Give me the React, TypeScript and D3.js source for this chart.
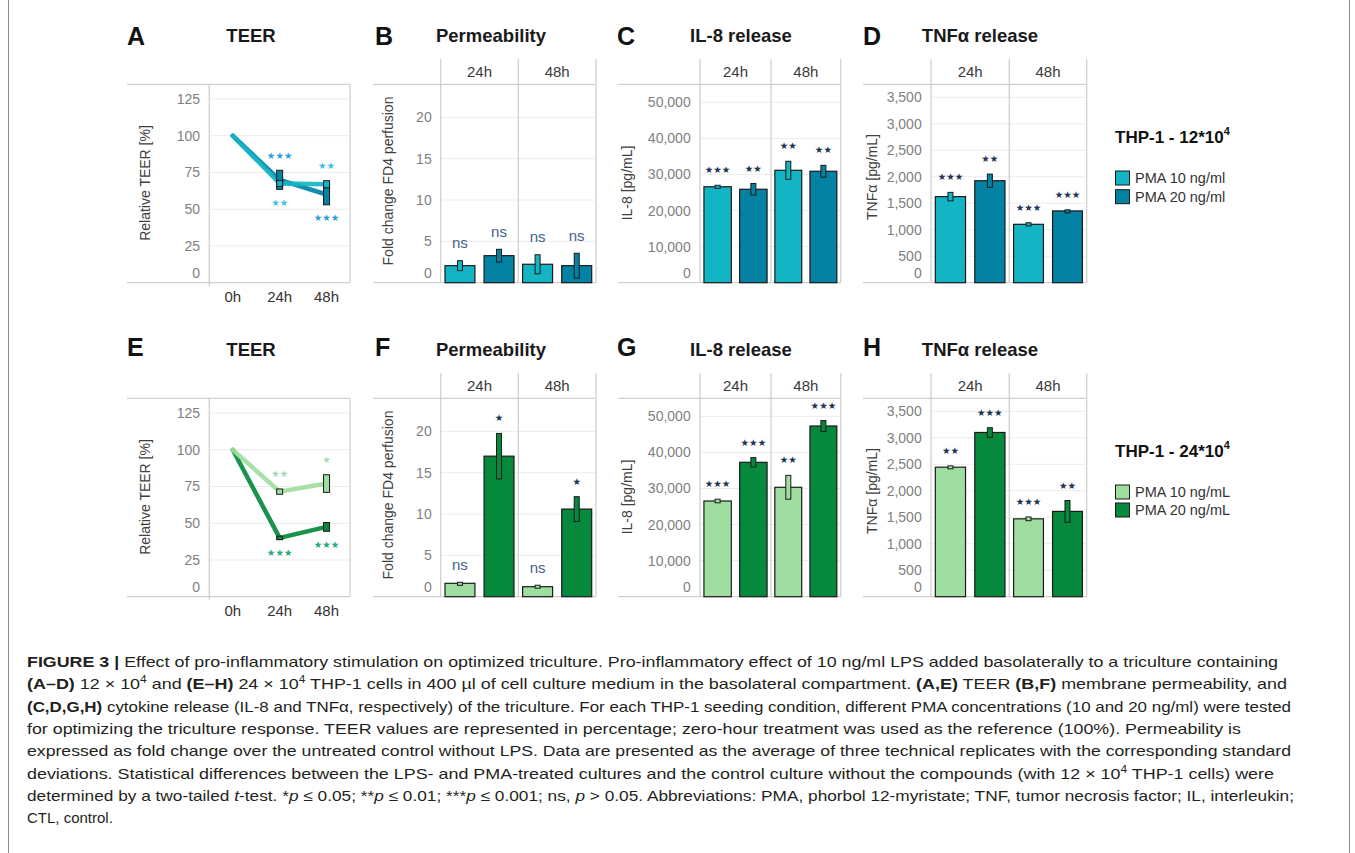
import React from "react";
import * as d3 from "d3";

// ---------------- DATA ----------------
const timepoints = ["0h", "24h", "48h"];
const facets = ["24h", "48h"];
const seriesTop = ["PMA 10 ng/ml", "PMA 20 ng/ml"];
const seriesBottom = ["PMA 10 ng/mL", "PMA 20 ng/mL"];
const legendTitleTop = "THP-1 - 12*10";
const legendTitleBottom = "THP-1 - 24*10";

// TEER (relative %, per timepoint)
const teerA10 = [100, 67.5, 67];
const teerA10sd = [0, 2, 2.4];
const teerA20 = [100, 70, 60];
const teerA20sd = [0, 6.5, 7];
const teerA10sig = ["", "**", "**"];
const teerA20sig = ["", "***", "***"];

const teerE10 = [100, 71.5, 77];
const teerE10sd = [0, 1.8, 6];
const teerE20 = [100, 40, 47.5];
const teerE20sd = [0, 1.2, 3];
const teerE10sig = ["", "**", "*"];
const teerE20sig = ["", "***", "***"];

// Permeability (fold change), per facet [24h, 48h]
const permB10 = [2.06, 2.23];
const permB10sd = [0.6, 1.15];
const permB20 = [3.27, 2.06];
const permB20sd = [0.77, 1.5];
const permB10sig = ["ns", "ns"];
const permB20sig = ["ns", "ns"];

const permF10 = [1.62, 1.21];
const permF10sd = [0.12, 0.18];
const permF20 = [17.0, 10.6];
const permF20sd = [2.75, 1.5];
const permF10sig = ["ns", "ns"];
const permF20sig = ["*", "*"];

// IL-8 (pg/mL)
const il8C10 = [26600, 31160];
const il8C10sd = [400, 2500];
const il8C20 = [25900, 30890];
const il8C20sd = [1600, 1650];
const il8C10sig = ["***", "**"];
const il8C20sig = ["**", "**"];

const il8G10 = [26530, 30330];
const il8G10sd = [500, 3300];
const il8G20 = [37260, 47320];
const il8G20sd = [1300, 1500];
const il8G10sig = ["***", "**"];
const il8G20sig = ["***", "***"];

// TNFa (pg/mL)
const tnfD10 = [1625, 1102];
const tnfD10sd = [80, 30];
const tnfD20 = [1925, 1355];
const tnfD20sd = [125, 20];
const tnfD10sig = ["***", "***"];
const tnfD20sig = ["**", "***"];

const tnfH10 = [2445, 1470];
const tnfH10sd = [25, 35];
const tnfH20 = [3100, 1610];
const tnfH20sd = [90, 205];
const tnfH10sig = ["**", "***"];
const tnfH20sig = ["***", "**"];

// Axis ticks
const teerTicks = [0, 25, 50, 75, 100, 125];
const permTicks = [0, 5, 10, 15, 20];
const il8Ticks = [0, 10000, 20000, 30000, 40000, 50000];
const tnfTicks = [0, 500, 1000, 1500, 2000, 2500, 3000, 3500];

// Caption
const captionLines: [string, string][][] = [
  [["FIGURE 3 | ", "b"], ["Effect of pro-inflammatory stimulation on optimized triculture. Pro-inflammatory effect of 10 ng/ml LPS added basolaterally to a triculture containing", ""]],
  [["(A–D)", "b"], [" 12 × 10", ""], ["4", "s"], [" and ", ""], ["(E–H)", "b"], [" 24 × 10", ""], ["4", "s"], [" THP-1 cells in 400 µl of cell culture medium in the basolateral compartment. ", ""], ["(A,E)", "b"], [" TEER ", ""], ["(B,F)", "b"], [" membrane permeability, and", ""]],
  [["(C,D,G,H)", "b"], [" cytokine release (IL-8 and TNFα, respectively) of the triculture. For each THP-1 seeding condition, different PMA concentrations (10 and 20 ng/ml) were tested", ""]],
  [["for optimizing the triculture response. TEER values are represented in percentage; zero-hour treatment was used as the reference (100%). Permeability is", ""]],
  [["expressed as fold change over the untreated control without LPS. Data are presented as the average of three technical replicates with the corresponding standard", ""]],
  [["deviations. Statistical differences between the LPS- and PMA-treated cultures and the control culture without the compounds (with 12 × 10", ""], ["4", "s"], [" THP-1 cells) were", ""]],
  [["determined by a two-tailed ", ""], ["t", "i"], ["-test. *", ""], ["p", "i"], [" ≤ 0.05; **", ""], ["p", "i"], [" ≤ 0.01; ***", ""], ["p", "i"], [" ≤ 0.001; ns, ", ""], ["p", "i"], [" > 0.05. Abbreviations: PMA, phorbol 12-myristate; TNF, tumor necrosis factor; IL, interleukin;", ""]],
  [["CTL, control.", ""]],
];

// ---------------- STYLE / LAYOUT ----------------
const TEAL = ["#13b5c4", "#0382a3"];
const GREEN = ["#9fdea0", "#07893d"];
const TEAL_STAR = ["#45c0e0", "#2f9fd6"];
const GREEN_STAR = ["#a6d8b4", "#2aa882"];
const FRAME = "#d0d0d0";
const GRID = "#ececec";
const SANS = "'Liberation Sans', Arial, Helvetica, sans-serif";
const STARF = "'DejaVu Sans', sans-serif";
const captionEnds = [1278, 1287, 1291, 1241, 1291, 1274, 1294, 0];

const PLOT_TOP = 84.3;
const PLOT_BOT = 282.7;
const HEAD_TOP = 59.3;
const ROW_DY = 314;
const STAR_SIZE = 9.5;

type ColCfg = { ext: number; fx: number[]; tickX: number; ytX: number; ytY: number; titleX: number; letterX: number };
const PERM: ColCfg = { ext: 373, fx: [440.7, 518.3, 596], tickX: 431.7, ytX: 388.3, ytY: 181, titleX: 491, letterX: 375 };
const IL8: ColCfg = { ext: 618, fx: [700, 771, 840.7], tickX: 690.7, ytX: 626.7, ytY: 183, titleX: 741, letterX: 617 };
const TNF: ColCfg = { ext: 863, fx: [931, 1009.3, 1086.7], tickX: 921.7, ytX: 871.7, ytY: 177, titleX: 980, letterX: 863 };

const stars = (s: string) => s.replace(/\*/g, "★");

function PanelHead({ letter, lx, title, tx, row }: { letter: string; lx: number; title: string; tx: number; row: number }) {
  return (
    <g>
      <text x={lx} y={row === 0 ? 44.5 : 356} fontFamily={SANS} fontWeight="bold" fontSize={25} fill="#111">{letter}</text>
      <text x={tx} y={row === 0 ? 41.5 : 355.5} fontFamily={SANS} fontWeight="bold" fontSize={18.5} fill="#1a1a1a" textAnchor="middle">{title}</text>
    </g>
  );
}

function YAxisText({ ticks, y, x, fmt }: { ticks: number[]; y: (v: number) => number; x: number; fmt: (v: number) => string }) {
  return (
    <g>
      {ticks.map((t) => (
        <text key={t} x={x} y={y(t) + 5 - (t === 0 ? 9.7 : 0)} textAnchor="end" fontFamily={SANS} fontSize={14} fill="#7f7f7f">{fmt(t)}</text>
      ))}
    </g>
  );
}

function TeerPanel({ row, letter, s10, s20, sd10, sd20, sig10, sig20, colors, starColors }: any) {
  const dy = row * ROW_DY;
  const left = 209.3, right = 350;
  const x = d3.scaleBand().domain(timepoints).range([left, right]);
  const cx = (i: number) => (x(timepoints[i]) as number) + x.bandwidth() / 2;
  const y = d3.scaleLinear().domain([0, 135]).range([PLOT_BOT + dy, PLOT_TOP + dy]);
  const line = d3.line<number>().x((_, i) => cx(i)).y((v) => y(v));
  const series = [
    { v: s20, sd: sd20, sig: sig20, c: colors[1], sc: starColors[1] },
    { v: s10, sd: sd10, sig: sig10, c: colors[0], sc: starColors[0] },
  ];
  return (
    <g>
      <PanelHead letter={letter} lx={127} title="TEER" tx={251} row={row} />
      {teerTicks.filter((t) => t > 0).map((t) => (
        <line key={t} x1={left} x2={right} y1={y(t)} y2={y(t)} stroke={GRID} strokeWidth={1} />
      ))}
      <line x1={127} x2={right} y1={PLOT_TOP + dy} y2={PLOT_TOP + dy} stroke={FRAME} strokeWidth={1.3} />
      <line x1={127} x2={right} y1={PLOT_BOT + dy} y2={PLOT_BOT + dy} stroke={FRAME} strokeWidth={1.3} />
      <line x1={left} x2={left} y1={PLOT_TOP + dy} y2={PLOT_BOT + dy + 3} stroke={FRAME} strokeWidth={1.3} />
      <line x1={right} x2={right} y1={PLOT_TOP + dy} y2={PLOT_BOT + dy} stroke={FRAME} strokeWidth={1.3} />
      <YAxisText ticks={teerTicks} y={y} x={200} fmt={(v) => String(v)} />
      <text transform={`translate(145,${183 + dy}) rotate(-90)`} textAnchor="middle" dominantBaseline="central" fontFamily={SANS} fontSize={14} fill="#404040">Relative TEER [%]</text>
      {timepoints.map((t, i) => (
        <text key={t} x={cx(i)} y={302 + dy} textAnchor="middle" fontFamily={SANS} fontSize={15} fill="#333">{t}</text>
      ))}
      {series.map((s, k) => (
        <path key={k} d={line(s.v) as string} fill="none" stroke={s.c} strokeWidth={4.5} strokeLinejoin="round" strokeLinecap="round" opacity={0.92} />
      ))}
      {series.map((s, k) => (
        <g key={k}>
          {s.v.map((v: number, i: number) => {
            if (i === 0) return null;
            const y1 = y(v + s.sd[i]);
            const h = Math.max(3, y(v - s.sd[i]) - y1);
            return <rect key={i} x={cx(i) - 3} y={y1} width={6} height={h} fill={s.c} stroke="#1a1a1a" strokeWidth={1} />;
          })}
        </g>
      ))}
      {timepoints.map((t, i) => {
        if (i === 0) return null;
        const tenAbove = s10[i] >= s20[i];
        const top = Math.max(s10[i] + sd10[i], s20[i] + sd20[i]);
        const bot = Math.min(s10[i] - sd10[i], s20[i] - sd20[i]);
        const above = tenAbove ? { s: sig10[i], c: starColors[0] } : { s: sig20[i], c: starColors[1] };
        const below = tenAbove ? { s: sig20[i], c: starColors[1] } : { s: sig10[i], c: starColors[0] };
        return (
          <g key={t}>
            <text x={cx(i)} y={y(top) - 15} textAnchor="middle" dominantBaseline="central" fontFamily={STARF} fontSize={STAR_SIZE} fill={above.c}>{stars(above.s)}</text>
            <text x={cx(i)} y={y(bot) + 13} textAnchor="middle" dominantBaseline="central" fontFamily={STARF} fontSize={STAR_SIZE} fill={below.c}>{stars(below.s)}</text>
          </g>
        );
      })}
    </g>
  );
}

function BarPanel({ cfg, row, letter, title, yTitle, ticks, yMax, fmt, v10, v20, sd10, sd20, sig10, sig20, colors }: any) {
  const dy = row * ROW_DY;
  const y = d3.scaleLinear().domain([0, yMax]).range([PLOT_BOT + dy, PLOT_TOP + dy]);
  const c: ColCfg = cfg;
  const right = c.fx[2];
  const data = [
    { v: v10, sd: sd10, sig: sig10, col: colors[0], key: "a" },
    { v: v20, sd: sd20, sig: sig20, col: colors[1], key: "b" },
  ];
  return (
    <g>
      <PanelHead letter={letter} lx={c.letterX} title={title} tx={c.titleX} row={row} />
      {ticks.filter((t: number) => t > 0).map((t: number) => (
        <line key={t} x1={c.fx[0]} x2={right} y1={y(t)} y2={y(t)} stroke={GRID} strokeWidth={1} />
      ))}
      <line x1={c.ext} x2={right} y1={PLOT_TOP + dy} y2={PLOT_TOP + dy} stroke={FRAME} strokeWidth={1.3} />
      <line x1={c.ext} x2={right} y1={PLOT_BOT + dy} y2={PLOT_BOT + dy} stroke={FRAME} strokeWidth={1.3} />
      {c.fx.map((fx, i) => (
        <line key={i} x1={fx} x2={fx} y1={HEAD_TOP + dy} y2={PLOT_BOT + dy} stroke={FRAME} strokeWidth={1.3} />
      ))}
      {facets.map((f, i) => (
        <text key={f} x={(c.fx[i] + c.fx[i + 1]) / 2} y={76.7 + dy} textAnchor="middle" fontFamily={SANS} fontSize={15} fill="#3a3a3a">{f}</text>
      ))}
      <YAxisText ticks={ticks} y={y} x={c.tickX} fmt={fmt} />
      <text transform={`translate(${c.ytX},${c.ytY + dy}) rotate(-90)`} textAnchor="middle" dominantBaseline="central" fontFamily={SANS} fontSize={14} fill="#404040">{yTitle}</text>
      {facets.map((f, fi) => {
        const band = d3.scaleBand().domain(["a", "b"]).range([c.fx[fi], c.fx[fi + 1]]).paddingInner(0.234).paddingOuter(0.11);
        const bw = band.bandwidth();
        return (
          <g key={f}>
            {data.map((s) => {
              const v = s.v[fi];
              const sd = s.sd[fi];
              const bx = band(s.key) as number;
              const mx = bx + bw / 2;
              const ey1 = y(v + sd);
              const eh = Math.max(3, y(v - sd) - ey1);
              const lab = s.sig[fi];
              const isNs = lab === "ns";
              return (
                <g key={s.key}>
                  <rect x={bx} y={y(v)} width={bw} height={y(0) - y(v)} fill={s.col} stroke="#1a1a1a" strokeWidth={1.2} />
                  <rect x={mx - 2.5} y={ey1} width={5} height={eh} fill={s.col} stroke="#1a1a1a" strokeWidth={1} />
                  {isNs ? (
                    <text x={mx} y={ey1 - 16.7 + 4} textAnchor="middle" fontFamily={SANS} fontSize={15} fill="#43618a">ns</text>
                  ) : (
                    <text x={mx} y={ey1 - 15.5} textAnchor="middle" dominantBaseline="central" fontFamily={STARF} fontSize={STAR_SIZE} fill="#1f3556">{stars(lab)}</text>
                  )}
                </g>
              );
            })}
          </g>
        );
      })}
    </g>
  );
}

function Legend({ row, title, names, colors }: any) {
  const dy = row * ROW_DY;
  const ys = [178 + dy, 196.7 + dy - (row === 1 ? 0.7 : 0)];
  return (
    <g>
      <text x={1115} y={143 + dy} fontFamily={SANS} fontWeight="bold" fontSize={17} fill="#111">
        {title}
        <tspan dy={-8} fontSize={11}>4</tspan>
      </text>
      {names.map((n: string, i: number) => (
        <g key={n}>
          <rect x={1115.5} y={ys[i] - 7} width={14} height={14} fill={colors[i]} stroke="#1a1a1a" strokeWidth={1} />
          <text x={1135} y={ys[i] + 5} fontFamily={SANS} fontSize={14.5} fill="#333">{n}</text>
        </g>
      ))}
    </g>
  );
}

function Caption() {
  return (
    <g>
      {captionLines.map((segs, li) => {
        let shift = 0;
        const yy = 667 + li * 22.3;
        const end = captionEnds[li];
        return (
          <text key={li} x={27} y={yy} fontFamily={SANS} fontSize={15} fill="#231f20" textLength={end > 0 ? end - 27 : undefined} lengthAdjust={end > 0 ? "spacingAndGlyphs" : undefined}>
            {segs.map(([t, st], si) => {
              const target = st === "s" ? -6 : 0;
              const d = target - shift;
              shift = target;
              return (
                <tspan key={si} dy={d !== 0 ? d : undefined} fontWeight={st === "b" ? "bold" : undefined} fontStyle={st === "i" ? "italic" : undefined} fontSize={st === "s" ? 10 : undefined}>{t}</tspan>
              );
            })}
          </text>
        );
      })}
    </g>
  );
}

export default function App() {
  const comma = d3.format(",");
  const plain = (v: number) => String(v);
  return (
    <svg width={1355} height={853} style={{ position: "absolute", left: 0, top: 0, display: "block", background: "#fff" }}>
      <rect x={0} y={0} width={1355} height={853} fill="#fff" />
      <line x1={8.5} x2={8.5} y1={0} y2={853} stroke="#8a8a8a" strokeWidth={1} />
      <line x1={1349.5} x2={1349.5} y1={0} y2={853} stroke="#8a8a8a" strokeWidth={1} />

      <TeerPanel row={0} letter="A" s10={teerA10} s20={teerA20} sd10={teerA10sd} sd20={teerA20sd} sig10={teerA10sig} sig20={teerA20sig} colors={TEAL} starColors={TEAL_STAR} />
      <BarPanel cfg={PERM} row={0} letter="B" title="Permeability" yTitle="Fold change FD4 perfusion" ticks={permTicks} yMax={24} fmt={plain} v10={permB10} v20={permB20} sd10={permB10sd} sd20={permB20sd} sig10={permB10sig} sig20={permB20sig} colors={TEAL} />
      <BarPanel cfg={IL8} row={0} letter="C" title="IL-8 release" yTitle="IL-8 [pg/mL]" ticks={il8Ticks} yMax={55000} fmt={comma} v10={il8C10} v20={il8C20} sd10={il8C10sd} sd20={il8C20sd} sig10={il8C10sig} sig20={il8C20sig} colors={TEAL} />
      <BarPanel cfg={TNF} row={0} letter="D" title="TNFα release" yTitle="TNFα [pg/mL]" ticks={tnfTicks} yMax={3745} fmt={comma} v10={tnfD10} v20={tnfD20} sd10={tnfD10sd} sd20={tnfD20sd} sig10={tnfD10sig} sig20={tnfD20sig} colors={TEAL} />
      <Legend row={0} title={legendTitleTop} names={seriesTop} colors={TEAL} />

      <TeerPanel row={1} letter="E" s10={teerE10} s20={teerE20} sd10={teerE10sd} sd20={teerE20sd} sig10={teerE10sig} sig20={teerE20sig} colors={GREEN} starColors={GREEN_STAR} />
      <BarPanel cfg={PERM} row={1} letter="F" title="Permeability" yTitle="Fold change FD4 perfusion" ticks={permTicks} yMax={24} fmt={plain} v10={permF10} v20={permF20} sd10={permF10sd} sd20={permF20sd} sig10={permF10sig} sig20={permF20sig} colors={GREEN} />
      <BarPanel cfg={IL8} row={1} letter="G" title="IL-8 release" yTitle="IL-8 [pg/mL]" ticks={il8Ticks} yMax={55000} fmt={comma} v10={il8G10} v20={il8G20} sd10={il8G10sd} sd20={il8G20sd} sig10={il8G10sig} sig20={il8G20sig} colors={GREEN} />
      <BarPanel cfg={TNF} row={1} letter="H" title="TNFα release" yTitle="TNFα [pg/mL]" ticks={tnfTicks} yMax={3745} fmt={comma} v10={tnfH10} v20={tnfH20} sd10={tnfH10sd} sd20={tnfH20sd} sig10={tnfH10sig} sig20={tnfH20sig} colors={GREEN} />
      <Legend row={1} title={legendTitleBottom} names={seriesBottom} colors={GREEN} />

      <Caption />
    </svg>
  );
}
